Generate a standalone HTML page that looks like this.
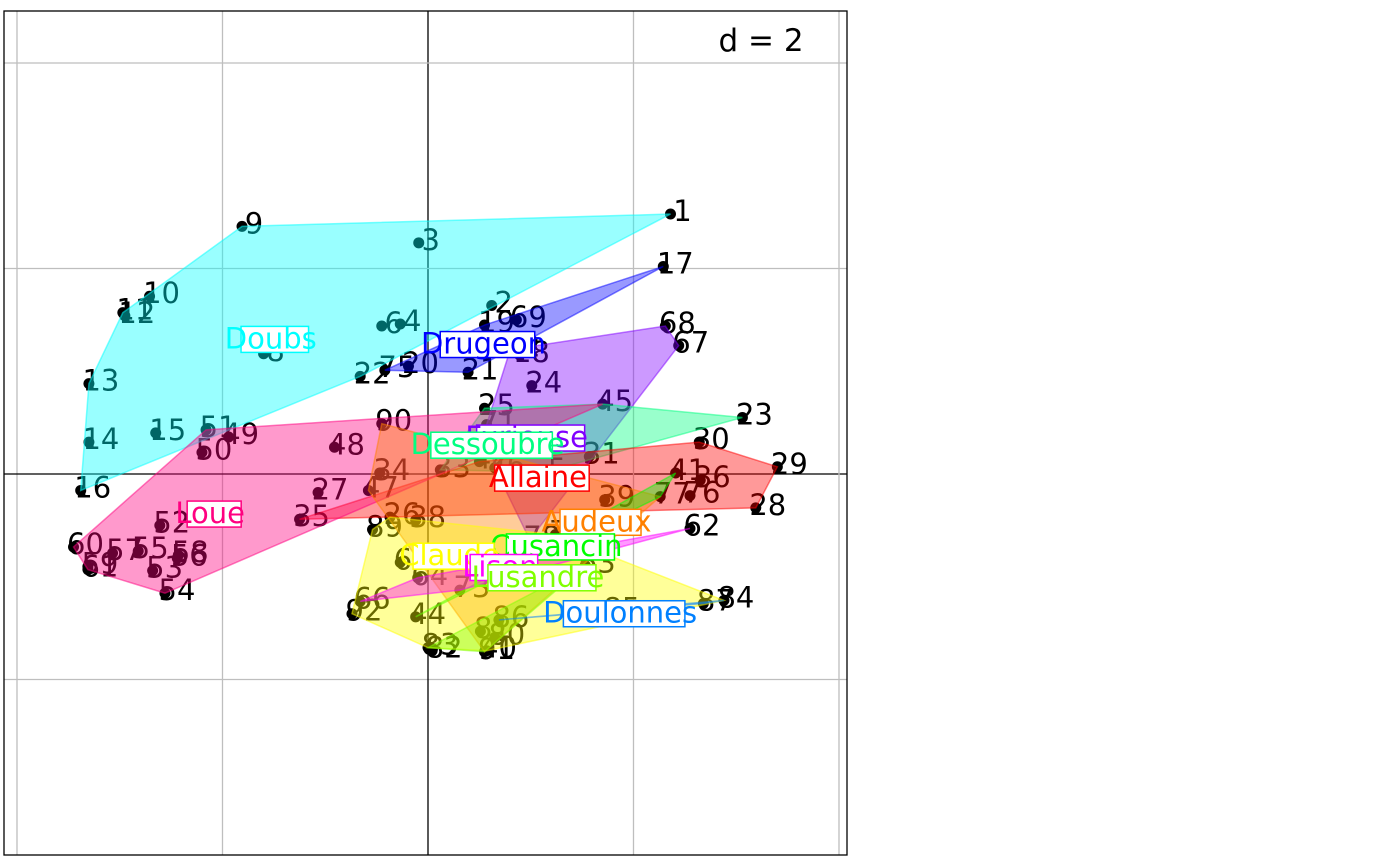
<!DOCTYPE html>
<html><head><meta charset="utf-8"><style>
html,body{margin:0;padding:0;background:#fff;}
svg{display:block;font-family:"DejaVu Sans","Liberation Sans",sans-serif;}
</style></head><body>
<svg id="chart" width="1400" height="866" viewBox="0 0 1400 866" xmlns="http://www.w3.org/2000/svg">
<rect x="0" y="0" width="1400" height="866" fill="#fff"/>
<g id="grid"></g>
<g id="pts"></g>
<g id="hulls"></g>
<g id="clabs"></g>
<rect x="4" y="11" width="843" height="844" fill="none" stroke="#000" stroke-width="1.3"/>
<text x="761" y="51" font-size="31" text-anchor="middle">d = 2</text>
</svg>
<script>
const pointLabels=[1,17,9,3,2,10,11,12,13,14,16,15,8,6,4,22,75,20,21,19,69,72,18,24,45,68,67,23,30,29,28,36,76,41,62,25,71,31,46,42,5,90,48,27,34,35,47,33,38,26,89,52,51,49,50,60,59,61,57,55,56,53,58,54,92,66,44,83,82,40,91,81,80,86,73,64,65,84,87,85,77,39,63,78,79];
const pointX=[2.36,2.29,-1.81,-0.09,0.62,-2.71,-2.97,-2.95,-3.30,-3.30,-3.38,-2.65,-1.60,-0.45,-0.27,-0.66,-0.42,-0.19,0.39,0.55,0.86,0.80,0.89,1.01,1.70,2.31,2.44,3.06,2.64,3.40,3.19,2.65,2.55,2.41,2.55,0.55,0.57,1.57,0.65,0.50,1.14,-0.45,-0.91,-1.07,-0.47,-1.25,-0.58,0.12,-0.12,-0.37,-0.54,-2.61,-2.16,-1.94,-2.20,-3.45,-3.31,-3.31,-3.07,-2.82,-2.44,-2.68,-2.43,-2.56,-0.74,-0.66,-0.12,0.00,0.04,0.57,0.55,0.51,0.65,0.69,0.31,-0.10,-0.27,2.88,2.68,1.77,2.26,1.72,1.53,0.99,1.24];
const pointY=[2.53,2.02,2.41,2.25,1.64,1.73,1.57,1.54,0.88,0.31,-0.16,0.40,1.17,1.44,1.46,0.95,1.01,1.05,0.99,1.45,1.50,1.21,1.16,0.86,0.68,1.44,1.25,0.55,0.31,0.07,-0.33,-0.06,-0.21,0.01,-0.53,0.64,0.48,0.17,0.06,0.12,0.02,0.49,0.26,-0.18,0.01,-0.44,-0.16,0.04,-0.45,-0.42,-0.54,-0.50,0.43,0.36,0.21,-0.71,-0.90,-0.93,-0.77,-0.75,-0.82,-0.94,-0.79,-1.16,-1.36,-1.24,-1.39,-1.69,-1.72,-1.72,-1.73,-1.53,-1.59,-1.42,-1.13,-1.01,-0.86,-1.23,-1.26,-1.34,-0.22,-0.25,-0.89,-0.64,-0.59];
const classNames=["Doubs","Drugeon","Furieuse","Dessoubre","Allaine","Loue","Audeux","Cusancin","Claude","Lison","Lusandre","Doulonnes"];
const classColors=["#00FFFF","#0000FF","#8000FF","#00FF80","#FF0000","#FF0080","#FF8000","#00FF00","#FFFF00","#FF00FF","#80FF00","#0080FF"];
const classMembers=[[1,2,3,4,6,8,9,10,11,12,13,14,15,16,22],[17,19,69,72,75,20,21],[68,67,72,24,71,46,31,78],[23,45,25,33,5,31],[29,30,28,36,76,41,35,42,39],[60,59,61,57,55,56,53,58,54,52,51,49,50,48,27,34,47,35,45],[90,47,38,39,77,91],[44,41,77],[89,92,83,40,85,87,84,79,26],[66,64,62,73],[83,81,63,86,91],[86,87,84]];
const classX=[-1.53,0.54,0.96,0.58,1.07,-2.12,1.64,1.25,0.21,0.70,1.07,1.87];
const classY=[1.31,1.26,0.35,0.28,-0.04,-0.39,-0.47,-0.71,-0.80,-0.91,-1.01,-1.36];
const gridTicks=[-4,-2,0,2,4];

const NS="http://www.w3.org/2000/svg";
const X0=428,Y0=474,S=102.75;
const sx=v=>X0+v*S, sy=v=>Y0-v*S;
function mk(tag,attrs,parent){const e=document.createElementNS(NS,tag);for(const k in attrs)e.setAttribute(k,attrs[k]);parent.appendChild(e);return e;}
const grid=document.getElementById('grid');
gridTicks.forEach(t=>{
  const a=mk('line',{x1:sx(t),x2:sx(t),y1:11,y2:855,stroke:t===0?'#000':'#bebebe','stroke-width':1.3},grid);
  
  
  const b=mk('line',{x1:4,x2:847,y1:sy(t),y2:sy(t),stroke:t===0?'#000':'#bebebe','stroke-width':1.3},grid);
  
  
});
const pts=document.getElementById('pts');
pointLabels.forEach((l,i)=>{
  const c=mk('circle',{cx:sx(pointX[i]),cy:sy(pointY[i]),r:5.5,fill:'#000'},pts);
  
  
  const t=mk('text',{x:sx(pointX[i])+12,y:sy(pointY[i])-1,'font-size':29,'text-anchor':'middle','dominant-baseline':'middle',fill:'#000'},pts);
  t.textContent=l;
  
  
});
function hull(p){p=p.slice().sort((a,b)=>a[0]-b[0]||a[1]-b[1]);const cr=(o,a,b)=>(a[0]-o[0])*(b[1]-o[1])-(a[1]-o[1])*(b[0]-o[0]);const lo=[],up=[];for(const q of p){while(lo.length>=2&&cr(lo[lo.length-2],lo[lo.length-1],q)<=0)lo.pop();lo.push(q);}for(let i=p.length-1;i>=0;i--){const q=p[i];while(up.length>=2&&cr(up[up.length-2],up[up.length-1],q)<=0)up.pop();up.push(q);}up.pop();lo.pop();return lo.concat(up);}
const hulls=document.getElementById('hulls');
classNames.forEach((n,k)=>{
  const P=classMembers[k].map(l=>{const i=pointLabels.indexOf(l);return [sx(pointX[i]),sy(pointY[i])];});
  const h=hull(P);
  const pg=mk('polygon',{points:h.map(q=>q.join(',')).join(' '),fill:classColors[k],'fill-opacity':0.4,stroke:classColors[k],'stroke-opacity':0.5,'stroke-width':1.5},hulls);
  
  
});
const cl=document.getElementById('clabs');
classNames.forEach((n,k)=>{
  const x=sx(classX[k]),y=sy(classY[k]);
  const w=n.length*30*0.45;
  const r=mk('rect',{x:x-w/2+4,y:y-13,width:w,height:26,fill:'#fff',stroke:classColors[k],'stroke-width':1.5},cl);
  
  
  const t=mk('text',{x:x,y:y+1,'font-size':29,'text-anchor':'middle','dominant-baseline':'middle',fill:classColors[k]},cl);
  t.textContent=n;
  
  
});
</script>
</body></html>
